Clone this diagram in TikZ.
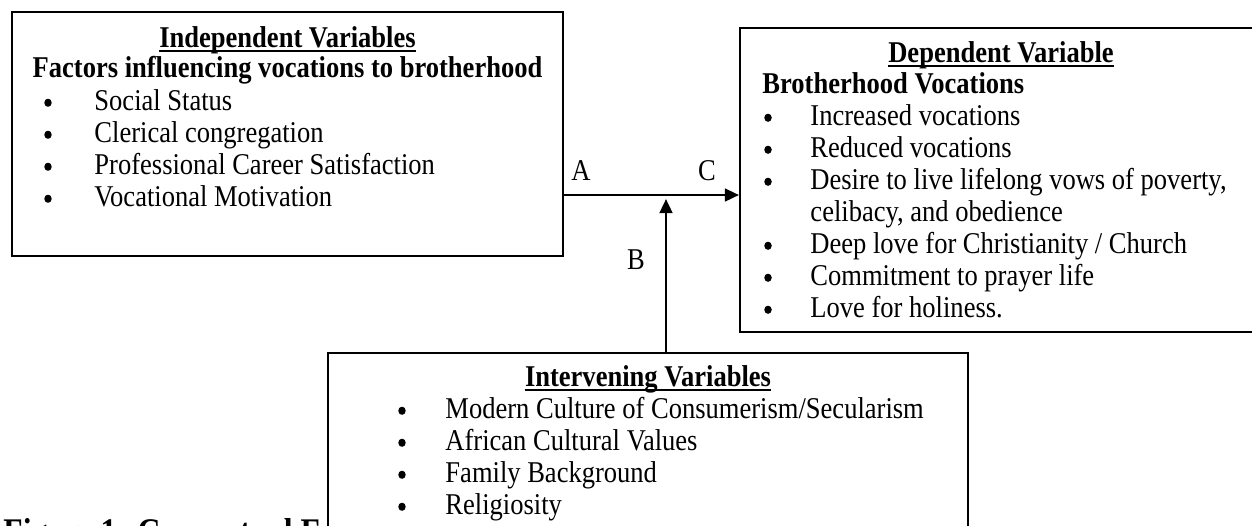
\documentclass[tikz,border=0pt]{standalone}
\usepackage{fontspec}
\setmainfont{Liberation Serif}[FakeStretch=0.88]
\usetikzlibrary{arrows.meta,fit,shapes.geometric}
\begin{document}
\begin{tikzpicture}[x=0.441pt,y=-0.441pt,
  font=\fontsize{13.3}{15}\selectfont,
  box/.style={draw, line width=0.9pt, fill=white, inner sep=0pt},
  txt/.style={anchor=base west, inner sep=0pt},
  ttl/.style={anchor=base, inner sep=0pt, font=\fontsize{13.3}{15}\selectfont\bfseries},
  btl/.style={anchor=base west, inner sep=0pt, font=\fontsize{13.3}{15}\selectfont\bfseries},
  bul/.style={ellipse, fill=black, inner sep=0pt, minimum width=3.3pt, minimum height=3.6pt, yshift=3.2pt},
  uline/.style={line width=1.0pt},
  conn/.style={line width=1.1pt, -{Triangle[length=6.2pt,width=5.6pt]}},
  lbl/.style={inner sep=0pt, anchor=base}]
\useasboundingbox (0,0) rectangle (1252,525);
% caption (partly hidden)
\node[txt, font=\fontsize{15.9}{18}\selectfont\bfseries] (cap) at (3,543) {Figure 1: Conceptual F};
% boxes
\coordinate (i1) at (12,12); \coordinate (i2) at (563,256);
\node[box, fit=(i1)(i2)] (ind) {};
\coordinate (d1) at (740,28); \coordinate (d2) at (1262,332);
\node[box, fit=(d1)(d2)] (dep) {};
\coordinate (v1) at (328,353); \coordinate (v2) at (968,545);
\node[box, fit=(v1)(v2)] (int) {};
% independent
\node[ttl] (it) at (287.5,47) {Independent Variables};
\draw[uline] ([yshift=-1.6pt]it.base west) -- ([yshift=-1.6pt]it.base east);
\node[ttl] (if) at (287.5,77) {Factors influencing vocations to brotherhood};
\node[bul] (ib1) at (48,110) {}; \node[txt] (ia1) at (94,110) {Social Status};
\node[bul] (ib2) at (48,142) {}; \node[txt] (ia2) at (94,142) {Clerical congregation};
\node[bul] (ib3) at (48,174) {}; \node[txt] (ia3) at (94,174) {Professional Career Satisfaction};
\node[bul] (ib4) at (48,206) {}; \node[txt] (ia4) at (94,206) {Vocational Motivation};
% dependent
\node[ttl] (dt) at (1001,62) {Dependent Variable};
\draw[uline] ([yshift=-1.6pt]dt.base west) -- ([yshift=-1.6pt]dt.base east);
\node[btl] (db) at (762,93) {Brotherhood Vocations};
\node[bul] (db1) at (768,125) {}; \node[txt] (da1) at (810,125) {Increased vocations};
\node[bul] (db2) at (768,157) {}; \node[txt] (da2) at (810,157) {Reduced vocations};
\node[bul] (db3) at (768,189) {}; \node[txt] (da3) at (810,189) {Desire to live lifelong vows of poverty,};
\node[txt] (da3b) at (810,221) {celibacy, and obedience};
\node[bul] (db4) at (768,253) {}; \node[txt] (da4) at (810,253) {Deep love for Christianity / Church};
\node[bul] (db5) at (768,285) {}; \node[txt] (da5) at (810,285) {Commitment to prayer life};
\node[bul] (db6) at (768,317) {}; \node[txt] (da6) at (810,317) {Love for holiness.};
% intervening
\node[ttl] (vt) at (648,386) {Intervening Variables};
\draw[uline] ([yshift=-1.6pt]vt.base west) -- ([yshift=-1.6pt]vt.base east);
\node[bul] (vb1) at (402,418) {}; \node[txt] (va1) at (445,418) {Modern Culture of Consumerism/Secularism};
\node[bul] (vb2) at (402,450) {}; \node[txt] (va2) at (445,450) {African Cultural Values};
\node[bul] (vb3) at (402,482) {}; \node[txt] (va3) at (445,482) {Family Background};
\node[bul] (vb4) at (402,514) {}; \node[txt] (va4) at (445,514) {Religiosity};
% connectors
\coordinate (hy) at (563,195);
\draw[conn] (ind.east |- hy) -- (dep.west |- hy);
\coordinate (vx) at (666,199);
\draw[conn] (int.north -| vx) -- (vx);
\node[lbl] (la) at (581,180) {A};
\node[lbl] (lc) at (707,180) {C};
\node[lbl] (lb) at (636,269) {B};
\end{tikzpicture}
\end{document}
